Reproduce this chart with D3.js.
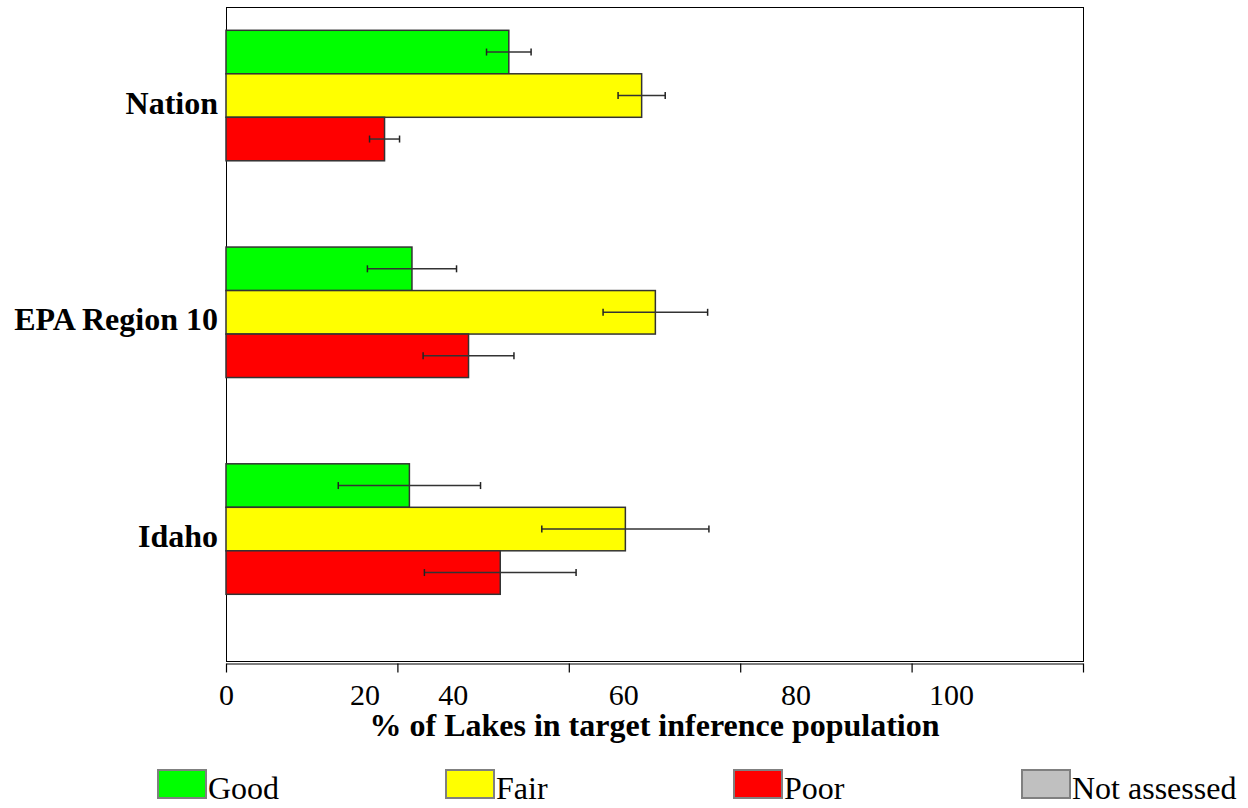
<!DOCTYPE html>
<html>
<head>
<meta charset="utf-8">
<script src="https://cdn.jsdelivr.net/npm/d3@7"></script>
<style>
  body { margin: 0; background: #fff; }
  svg { display: block; }
  text { font-family: "Liberation Serif", "Times New Roman", serif; fill: #000; }
</style>
</head>
<body>
<svg id="chart" width="1248" height="808"></svg>
<script>
// Lake condition by area, with 95% confidence half-widths
const regions = ["Nation", "EPA Region 10", "Idaho"];
const conditions = ["Good", "Fair", "Poor"];
const legendLabels = ["Good", "Fair", "Poor", "Not assessed"];
const goodPct = [33.0, 21.7, 21.4];
const fairPct = [48.5, 50.1, 46.6];
const poorPct = [18.5, 28.3, 32.0];
const goodErr = [2.6, 5.2, 8.3];
const fairErr = [2.75, 6.1, 9.75];
const poorErr = [1.75, 5.3, 8.85];
const xTicks = [0, 20, 40, 60, 80, 100];
const xTickLabels = ["0", "20", "40", "60", "80", "100"];
const axisTitle = "% of Lakes in target inference population";

const colors = { "Good": "#00ff00", "Fair": "#ffff00", "Poor": "#ff0000", "Not assessed": "#c0c0c0" };

const pctBy = { "Good": goodPct, "Fair": fairPct, "Poor": poorPct };
const errBy = { "Good": goodErr, "Fair": fairErr, "Poor": poorErr };
const rows = [];
regions.forEach((r, i) => conditions.forEach(c => rows.push({ region: r, cond: c, v: pctBy[c][i], e: errBy[c][i] })));

const svg = d3.select("#chart");
const plot = { left: 226, right: 1083, top: 7, bottom: 661 };

const x = d3.scaleLinear().domain([0, 100]).range([plot.left, plot.right]);
const y0 = d3.scaleBand().domain(regions).range([30.3, 594.3]).paddingInner(0.398).paddingOuter(0);
const y1 = d3.scaleBand().domain(conditions).range([0, y0.bandwidth()]);

// plot frame
svg.append("rect")
  .attr("x", plot.left + 0.5).attr("y", plot.top + 0.5)
  .attr("width", plot.right - plot.left).attr("height", plot.bottom - plot.top)
  .attr("fill", "none").attr("stroke", "#000").attr("stroke-width", 1);

// bars
const g = svg.append("g");
g.selectAll("rect.bar").data(rows).join("rect")
  .attr("class", "bar")
  .attr("x", x(0))
  .attr("y", d => y0(d.region) + y1(d.cond))
  .attr("width", d => x(d.v) - x(0))
  .attr("height", y1.bandwidth())
  .attr("fill", d => colors[d.cond])
  .attr("stroke", "#333").attr("stroke-width", 1.5);

// error bars
const eb = g.selectAll("g.err").data(rows).join("g").attr("class", "err")
  .attr("transform", d => `translate(0,${y0(d.region) + y1(d.cond) + y1.bandwidth() / 2})`);
eb.append("line")
  .attr("x1", d => x(d.v - d.e)).attr("x2", d => x(d.v + d.e))
  .attr("stroke", "#333").attr("stroke-width", 1.5);
eb.append("line")
  .attr("x1", d => x(d.v - d.e)).attr("x2", d => x(d.v - d.e))
  .attr("y1", -3.5).attr("y2", 3.5)
  .attr("stroke", "#222").attr("stroke-width", 1.5);
eb.append("line")
  .attr("x1", d => x(d.v + d.e)).attr("x2", d => x(d.v + d.e))
  .attr("y1", -3.5).attr("y2", 3.5)
  .attr("stroke", "#222").attr("stroke-width", 1.5);

// x axis: tick labels sit left of their tick marks
const labelShift = [0, -33, -116, -117, -116, -132];
const xAxis = svg.append("g")
  .attr("transform", `translate(0,${plot.bottom + 2.5})`)
  .call(d3.axisBottom(x).tickValues(xTicks).tickSize(9).tickSizeOuter(0)
    .tickFormat((d, i) => xTickLabels[i]));
xAxis.select(".domain").attr("stroke", "#000").attr("stroke-width", 1.2);
xAxis.selectAll(".tick line").attr("stroke", "#000").attr("stroke-width", 1.2);
xAxis.selectAll(".tick text")
  .attr("font-family", "Liberation Serif, Times New Roman, serif")
  .attr("font-size", 30)
  .attr("dy", null)
  .attr("y", 705 - (plot.bottom + 2.5))
  .attr("x", (d, i) => labelShift[i]);

svg.append("text")
  .attr("x", (plot.left + plot.right) / 2).attr("y", 736)
  .attr("text-anchor", "middle")
  .attr("font-size", 32).attr("font-weight", "bold")
  .text(axisTitle);

// region labels
svg.selectAll("text.region").data(regions).join("text")
  .attr("class", "region")
  .attr("x", 218)
  .attr("y", d => y0(d) + y0.bandwidth() / 2 + 18)
  .attr("text-anchor", "end")
  .attr("font-size", 32).attr("font-weight", "bold")
  .text(d => d);

// legend
const legend = svg.selectAll("g.legend").data(legendLabels).join("g")
  .attr("class", "legend")
  .attr("transform", (d, i) => `translate(${158 + i * 288},770)`);
legend.append("rect")
  .attr("x", 0).attr("y", 0).attr("width", 48).attr("height", 28)
  .attr("fill", d => colors[d]).attr("stroke", "#808080").attr("stroke-width", 2);
legend.append("text")
  .attr("x", 50).attr("y", 29)
  .attr("font-size", 32)
  .text(d => d);
</script>
</body>
</html>
